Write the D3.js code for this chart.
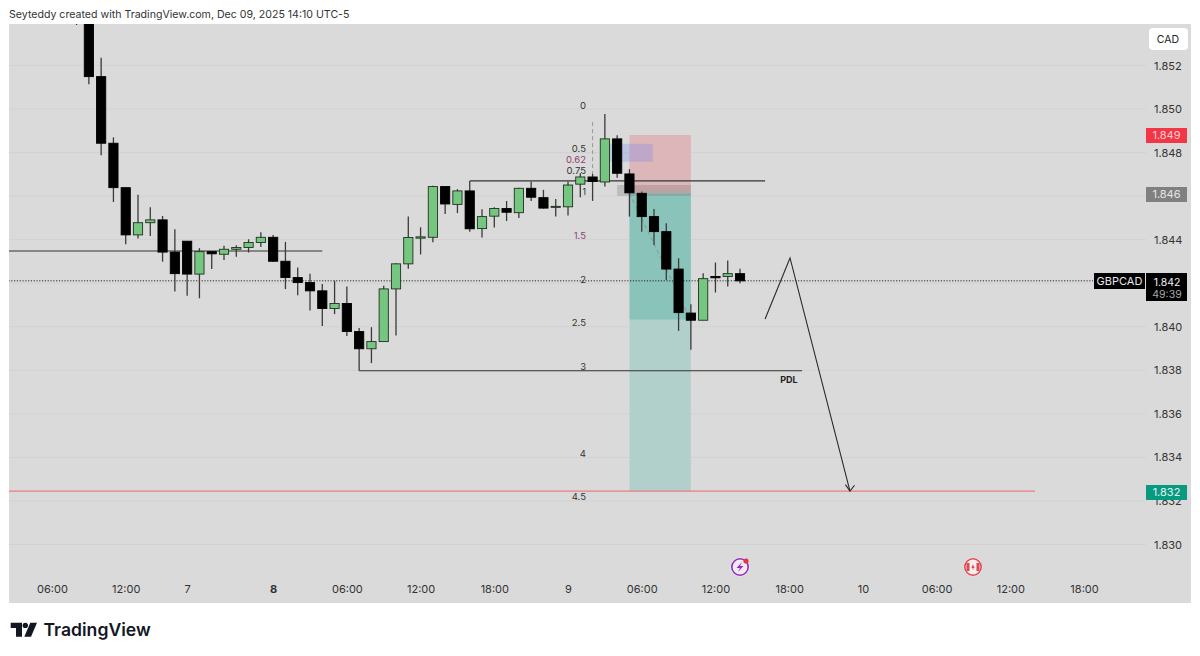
<!DOCTYPE html>
<html><head><meta charset="utf-8">
<script src="https://cdn.jsdelivr.net/npm/d3@7"></script>
<style>html,body{margin:0;padding:0;background:#fff}svg{display:block}text{font-family:Inter,"Noto Sans",sans-serif}</style>
</head><body><div id="c"></div>
<script>
const opens=[1.8560,1.85409,1.85149,1.84843,1.84639,1.84422,1.84478,1.84491,1.84343,1.84393,1.84242,1.84345,1.84333,1.84356,1.84364,1.84387,1.84411,1.84301,1.84226,1.84203,1.84165,1.84084,1.84107,1.83978,1.83899,1.83932,1.84174,1.84289,1.84407,1.84411,1.84644,1.84562,1.84624,1.84451,1.84508,1.84543,1.84524,1.84636,1.84593,1.84549,1.84551,1.84655,1.84688,1.84665,1.84863,1.84702,1.84613,1.84506,1.84437,1.84265,1.84063,1.84030,1.84231,1.84231,1.84244];
const closes=[1.8550,1.85149,1.84843,1.84639,1.84422,1.84478,1.84491,1.84343,1.84244,1.84242,1.84345,1.84335,1.84356,1.84364,1.84387,1.84411,1.84301,1.84226,1.84203,1.84165,1.84084,1.84107,1.83978,1.83899,1.83932,1.84174,1.84289,1.84410,1.84413,1.84644,1.84564,1.84624,1.84450,1.84506,1.84543,1.84526,1.84636,1.84595,1.84545,1.84553,1.84651,1.84688,1.84667,1.84863,1.84705,1.84615,1.84506,1.84437,1.84265,1.84065,1.84030,1.84221,1.84225,1.84244,1.84211];
const highs=[1.8562,1.85432,1.85236,1.84870,1.84639,1.84606,1.84549,1.84509,1.84448,1.84393,1.84361,1.84345,1.84372,1.84375,1.84402,1.84434,1.84421,1.84390,1.84272,1.84243,1.84197,1.84212,1.84185,1.83994,1.83998,1.84188,1.84292,1.84506,1.84457,1.84648,1.84644,1.84632,1.84670,1.84540,1.84549,1.84578,1.84639,1.84667,1.84629,1.84587,1.84667,1.84705,1.84702,1.84977,1.84880,1.84724,1.84621,1.84541,1.84476,1.84315,1.84104,1.84246,1.84295,1.84304,1.84266];
const lows=[1.85386,1.85114,1.84788,1.84573,1.84379,1.84405,1.84417,1.84299,1.84162,1.84143,1.84131,1.84265,1.84307,1.84322,1.84341,1.84366,1.84297,1.84173,1.84145,1.84075,1.84004,1.84058,1.83958,1.83798,1.83833,1.83932,1.83960,1.84266,1.84332,1.84388,1.84518,1.84522,1.84437,1.84410,1.84456,1.84486,1.84500,1.84578,1.84543,1.84506,1.84511,1.84595,1.84578,1.84644,1.84685,1.84506,1.84436,1.84376,1.84215,1.83981,1.83894,1.84030,1.84157,1.84185,1.84200];

const priceTicks=[1.852,1.850,1.848,1.846,1.844,1.842,1.840,1.838,1.836,1.834,1.832,1.830];
const timeTickBars=[-2,4,9,16,22,28,34,40,46,52,58,64,70,76,82];
const timeTickLabels=["06:00","12:00","7","8","06:00","12:00","18:00","9","06:00","12:00","18:00","10","06:00","12:00","18:00"];
const fibLabels=["0","0.5","0.62","0.75","1","1.5","2","2.5","3","4","4.5"];
const fibPrices=[1.85014,1.84817,1.84766,1.84716,1.84619,1.84417,1.84215,1.84018,1.83816,1.83417,1.83219];
const fibPurple=["0.62","1.5"];

const W=1200,H=656,L=9,R=1191,T=24,B=603,PR=1146;
const x=d3.scaleLinear().domain([0,84]).range([76.57,1108.6]);
const y=d3.scaleLinear().domain([1.852,1.830]).range([65.5,544.5]);
const svg=d3.select("#c").append("svg").attr("width",W).attr("height",H);
svg.append("rect").attr("x",L).attr("y",T).attr("width",R-L).attr("height",B-T).attr("fill","#dadada");
svg.append("defs").append("clipPath").attr("id","pc").append("rect").attr("x",L).attr("y",T).attr("width",PR-L).attr("height",B-T);
svg.append("text").attr("x",9).attr("y",18).attr("font-size",10.6).attr("fill","#333").text("Seyteddy created with TradingView.com, Dec 09, 2025 14:10 UTC-5");

const plot=svg.append("g").attr("clip-path","url(#pc)");
plot.selectAll("line.grid").data(priceTicks).join("line").attr("class","grid")
 .attr("x1",L).attr("x2",PR).attr("y1",d=>y(d)).attr("y2",d=>y(d)).attr("stroke","#d2d2d2").attr("stroke-width",1);

// position tool
const rect=(x0,x1,p0,p1,fill)=>plot.append("rect").attr("x",x(x0)).attr("width",x(x1)-x(x0)).attr("y",y(p0)).attr("height",y(p1)-y(p0)).attr("fill",fill);
rect(45,50,1.84881,1.84613,"#dcb6b9");
rect(45,50,1.84613,1.84032,"#8ac3b9");
rect(45,50,1.84032,1.83245,"#b2d0cb");
rect(44,50,1.84651,1.84601,"rgba(110,110,110,.28)");
rect(43.4,46.9,1.84840,1.84758,"rgba(110,130,240,.27)");

const hline=(a,b,p,col,w,dash)=>plot.append("line").attr("x1",x(a)).attr("x2",x(b)).attr("y1",y(p)).attr("y2",y(p)).attr("stroke",col).attr("stroke-width",w).attr("stroke-dasharray",dash||null);
hline(-6,82.73,1.84211,"#222",1,"1.2 1.6");
hline(-6,20,1.84348,"#333",1.2);
hline(32,56.04,1.84670,"#333",1.1);
hline(23,59.05,1.83798,"#333",1.1);
hline(-6,78.01,1.83245,"#ee7b84",1.4);

// fib dashed trend lines
const seg=(a,p,b,q,col,w,dash)=>plot.append("line").attr("x1",x(a)).attr("y1",y(p)).attr("x2",x(b)).attr("y2",y(q)).attr("stroke",col).attr("stroke-width",w).attr("stroke-dasharray",dash||null);
seg(42,1.84940,42,1.84700,"#9a9a9a",1,"4 3");
seg(45,1.84613,50,1.84030,"#7f9a94",1,"4 3");

// candles
const bars=d3.range(opens.length);
plot.selectAll("line.w").data(bars).join("line").attr("class","w")
 .attr("x1",i=>x(i)).attr("x2",i=>x(i)).attr("y1",i=>y(highs[i])).attr("y2",i=>y(lows[i]))
 .attr("stroke","#3a3a3a").attr("stroke-width",1.3);
plot.selectAll("rect.b").data(bars).join("rect").attr("class","b")
 .attr("x",i=>x(i)-4.6).attr("width",9.2)
 .attr("y",i=>y(Math.max(opens[i],closes[i])))
 .attr("height",i=>Math.max(1,Math.abs(y(opens[i])-y(closes[i]))))
 .attr("fill",i=>closes[i]>=opens[i]?"#74c680":"#000")
 .attr("stroke",i=>closes[i]>=opens[i]?"#22301f":"#000").attr("stroke-width",.9);

// drawn path
plot.append("path").attr("fill","none").attr("stroke","#2a2a2a").attr("stroke-width",1.1)
 .attr("d",d3.line().x(d=>x(d[0])).y(d=>y(d[1]))([[56.04,1.84036],[58.07,1.84316],[62.95,1.83245]]));
plot.append("path").attr("fill","none").attr("stroke","#2a2a2a").attr("stroke-width",1.1)
 .attr("d",d3.line().x(d=>x(d[0])).y(d=>y(d[1]))([[62.58,1.83275],[62.95,1.83245],[63.32,1.83272]]));

// fib labels
plot.selectAll("text.f").data(fibLabels).join("text").attr("class","f")
 .attr("x",586).attr("y",(d,i)=>y(fibPrices[i])).attr("dy","0.35em").attr("text-anchor","end")
 .attr("font-size",9.5).attr("fill",d=>fibPurple.includes(d)?"#8c3f6f":"#333").text(d=>d);
plot.append("text").attr("x",789).attr("y",380).attr("dy","0.35em").attr("text-anchor","middle").attr("font-size",9).attr("font-weight",700).attr("fill","#222").text("PDL");

// axes
const yAxis=d3.axisRight(y).tickValues(priceTicks).tickSize(0).tickPadding(0).tickFormat(d3.format(".3f"));
const ya=svg.append("g").attr("transform","translate(1154,0)").call(yAxis);
ya.select(".domain").remove();
ya.selectAll("text").attr("font-size",11).attr("fill","#333").attr("font-family","Inter");
const xAxis=d3.axisBottom(x).tickValues(timeTickBars).tickSize(0).tickPadding(0).tickFormat((d,i)=>timeTickLabels[i]);
const xa=svg.append("g").attr("transform","translate(0,585)").call(xAxis);
xa.select(".domain").remove();
xa.selectAll("text").attr("font-size",11).attr("fill","#333").attr("font-family","Inter")
 .attr("font-weight",(d,i)=>timeTickLabels[i]==="8"?700:400);

// price tags
const tag=(x0,y0,w,h,fill,label,col)=>{
 svg.append("rect").attr("x",x0).attr("y",y0).attr("width",w).attr("height",h).attr("fill",fill);
 if(label)svg.append("text").attr("x",x0+w/2).attr("y",y0+h/2).attr("dy","0.35em").attr("text-anchor","middle").attr("font-size",11).attr("fill",col).text(label);
};
svg.append("rect").attr("x",1149).attr("y",28).attr("width",39).attr("height",22).attr("rx",4).attr("fill","#fff");
svg.append("text").attr("x",1168).attr("y",39).attr("dy","0.35em").attr("text-anchor","middle").attr("font-size",10.5).attr("fill","#222").text("CAD");
tag(1146,128,41,15,"#f23645","1.849","#f8d0d4");
tag(1146,187,41,15,"#808080","1.846","#e6e6e6");
tag(1146,485,41,15,"#089981","1.832","#e0f5ef");
tag(1094,273,51,16,"#000","GBPCAD","#e8e8e8");
tag(1146,273,41,28,"#000",null);
svg.append("text").attr("x",1167).attr("y",285.5).attr("text-anchor","middle").attr("font-size",10.5).attr("fill","#f0f0f0").text("1.842");
svg.append("text").attr("x",1167).attr("y",298).attr("text-anchor","middle").attr("font-size",10.5).attr("fill","#a8a8a8").text("49:39");

// event icons
const ic=svg.append("g").attr("transform","translate(740,567)");
ic.append("circle").attr("r",9.5).attr("fill","#f3e9f5");
ic.append("circle").attr("r",8.2).attr("fill","none").attr("stroke","#8e2fb5").attr("stroke-width",1.6);
ic.append("path").attr("d","M2-5L-3.5 1H0L-2 5L3.5-1H0Z").attr("fill","#8e2fb5");
ic.append("circle").attr("cx",6).attr("cy",-6).attr("r",2.6).attr("fill","#e8323f");
const ca=svg.append("g").attr("transform","translate(973,567)");
ca.append("circle").attr("r",9.5).attr("fill","#f5e6e6");
ca.append("circle").attr("r",8.2).attr("fill","#f8eeee").attr("stroke","#dd4a55").attr("stroke-width",1.6);
ca.append("path").attr("d","M-6.5-4H-3.5V4H-6.5ZM3.5-4H6.5V4H3.5Z").attr("fill","#dd4a55");
ca.append("path").attr("d","M0-2.8L1.6 1H.4V2.6H-.4V1H-1.6Z").attr("fill","#dd4a55");

// logo
const lg=svg.append("g").attr("fill","#131722");
lg.append("path").attr("d","M10.7 622.7H22V636.7H16V628H10.7Z");
lg.append("circle").attr("cx",25.3).attr("cy",625.4).attr("r",2.7);
lg.append("path").attr("d","M30.3 622.7H37L31 636.7H24.3Z");
svg.append("text").attr("x",43.5).attr("y",636).attr("font-size",17.6).attr("font-weight",600).attr("fill","#131722").text("TradingView");
</script></body></html>
